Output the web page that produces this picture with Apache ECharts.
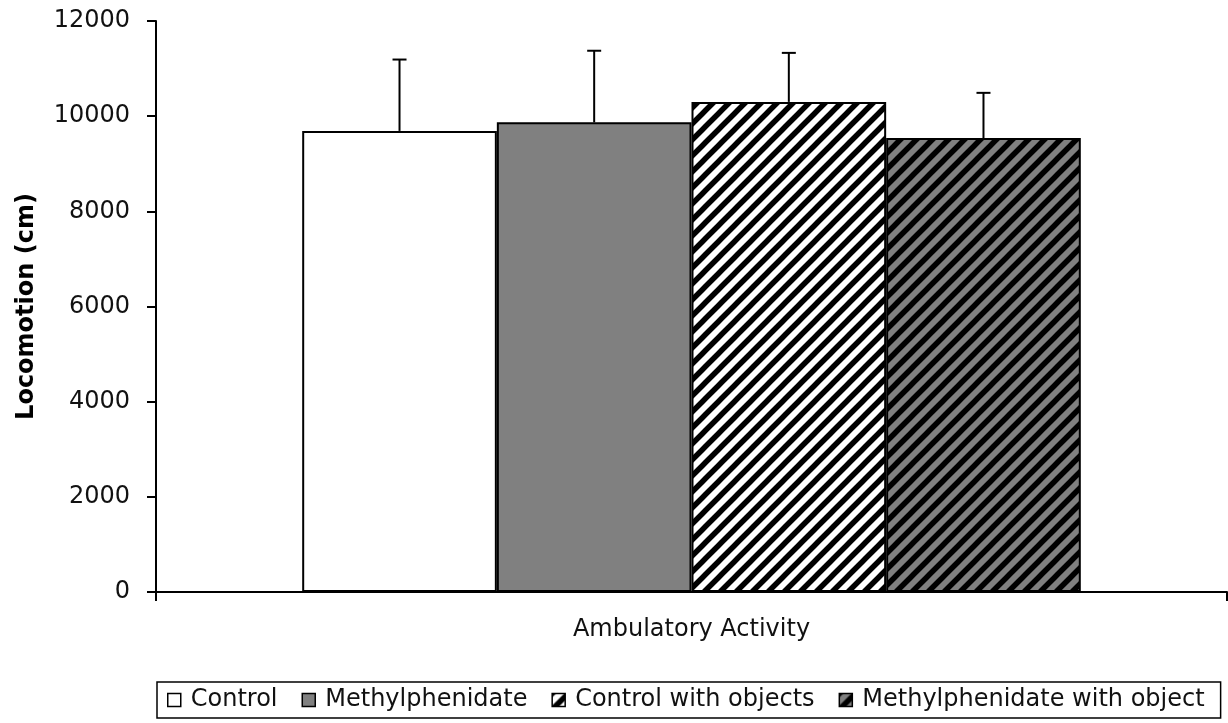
<!DOCTYPE html>
<html>
<head>
<meta charset="utf-8">
<script src="https://cdn.jsdelivr.net/npm/echarts@6/dist/echarts.min.js"></script>
<style>
html,body{margin:0;padding:0;background:#fff;}
#chart{width:1228px;height:723px;}
</style>
</head>
<body>
<div id="chart"></div>
<script>
// ---- data ----
const categories = ['Ambulatory Activity'];
const seriesNames = ['Control', 'Methylphenidate', 'Control with objects', 'Methylphenidate with object'];
const means = [9690, 9870, 10300, 9540];
const errors = [1500, 1505, 1030, 950];
const yTicks = [0, 2000, 4000, 6000, 8000, 10000, 12000];

// ---- hatch patterns ----
function hatch(bg) {
  const s = 16;
  const c = document.createElement('canvas');
  c.width = s; c.height = s;
  const g = c.getContext('2d');
  g.fillStyle = bg; g.fillRect(0, 0, s, s);
  g.strokeStyle = '#000'; g.lineWidth = 5.5;
  g.beginPath();
  for (let k = -1; k <= 1; k++) {
    g.moveTo(k * s - s, 2 * s); g.lineTo(k * s + 2 * s, -s);
  }
  g.stroke();
  return { image: c, repeat: 'repeat' };
}
const fills = ['#ffffff', '#808080', hatch('#ffffff'), hatch('#808080')];

const GAP = 0.273;
const FONT = 'DejaVu Sans';
const TXT = '#111';

const chart = echarts.init(document.getElementById('chart'), null, { renderer: 'canvas' });

const barSeries = seriesNames.map((name, i) => ({
  name: name,
  type: 'bar',
  data: [means[i]],
  barGap: '0%',
  barCategoryGap: (GAP * 100) + '%',
  itemStyle: { color: fills[i], borderColor: '#000', borderWidth: 2 },
  emphasis: { disabled: true },
  animation: false
}));

const errData = means.map((m, i) => [0, m, errors[i], i]);

const errSeries = {
  type: 'custom',
  name: 'err',
  data: errData,
  animation: false,
  z: 10,
  renderItem: function (params, api) {
    const base = api.coord([api.value(0), api.value(1)]);
    const top = api.coord([api.value(0), api.value(1) + api.value(2)]);
    const band = api.size([1, 0])[0];
    const bw = band * (1 - GAP) / 4;
    const cx = base[0] + (api.value(3) - 1.5) * bw;
    const cap = 7;
    return {
      type: 'group',
      children: [
        { type: 'line', shape: { x1: cx, y1: base[1], x2: cx, y2: top[1] }, style: { stroke: '#000', lineWidth: 2 } },
        { type: 'line', shape: { x1: cx - cap, y1: top[1], x2: cx + cap, y2: top[1] }, style: { stroke: '#000', lineWidth: 2 } }
      ]
    };
  }
};

chart.setOption({
  backgroundColor: '#fff',
  animation: false,
  grid: { left: 156, right: 1, top: 21, bottom: 131, containLabel: false },
  legend: {
    data: seriesNames,
    left: 157,
    top: 682,
    orient: 'horizontal',
    icon: 'rect',
    itemWidth: 13,
    itemHeight: 13,
    itemGap: 24,
    padding: [6, 16, 6, 10],
    borderColor: '#000',
    borderWidth: 1.5,
    itemStyle: { borderColor: '#000', borderWidth: 1.5 },
    textStyle: { fontFamily: FONT, fontSize: 24, color: TXT, padding: [0, 0, 0, 5] },
    selectedMode: false
  },
  xAxis: {
    type: 'category',
    data: categories,
    boundaryGap: true,
    axisLine: { lineStyle: { color: '#000', width: 2 } },
    axisTick: { show: true, length: 9, inside: false, lineStyle: { color: '#000', width: 2 } },
    axisLabel: { fontFamily: FONT, fontSize: 24, color: TXT, margin: 26 },
    splitLine: { show: false }
  },
  yAxis: {
    type: 'value',
    min: 0,
    max: 12000,
    interval: 2000,
    name: 'Locomotion (cm)',
    nameLocation: 'middle',
    nameRotate: 90,
    nameGap: 117,
    nameTextStyle: { fontFamily: FONT, fontSize: 24, fontWeight: 'bold', color: '#000' },
    axisLine: { show: true, lineStyle: { color: '#000', width: 2 } },
    axisTick: { show: true, length: 9, lineStyle: { color: '#000', width: 2 } },
    axisLabel: { fontFamily: FONT, fontSize: 24, color: TXT, margin: 26,
      formatter: function (v) { return yTicks.indexOf(v) >= 0 ? String(v) : ''; } },
    splitLine: { show: false }
  },
  series: barSeries.concat([errSeries])
});
</script>
</body>
</html>
